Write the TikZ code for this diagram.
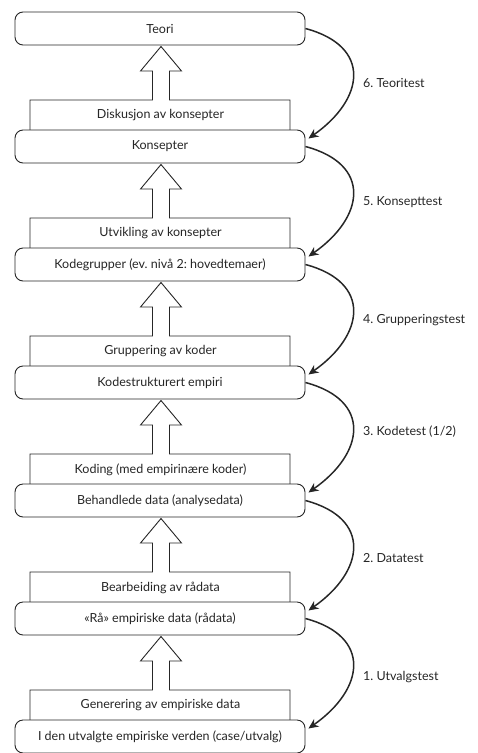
\documentclass[tikz,border=0pt]{standalone}
\usepackage{fontspec}
\setmainfont{Lato}
\frenchspacing
\usetikzlibrary{arrows.meta,calc}
\definecolor{ink}{HTML}{262626}
\tikzset{
  rbox/.style={draw=ink, line width=0.9pt, rounded corners=8pt, fill=white,
    minimum width=290pt, minimum height=33pt, inner sep=0pt, font=\fontsize{12.5}{14}\selectfont, text=ink},
  ptext/.style={inner sep=0pt, font=\fontsize{12.5}{14}\selectfont, text=ink},
  ltext/.style={anchor=west, inner sep=0pt, font=\fontsize{12.5}{14}\selectfont, text=ink},
  pshape/.style={draw=ink, line width=0.9pt, fill=white, line join=miter},
  testarrow/.style={draw=ink, line width=1.5pt, -{Stealth[length=10pt,width=9pt]}}
}
\begin{document}
\begin{tikzpicture}[x=1pt,y=1pt]
\useasboundingbox (0,0) rectangle (478,-753);
% process boxes with block arrows (drawn first, under the rounded boxes)
\foreach \k/\t in {0/Diskusjon av konsepter,1/Utvikling av konsepter,2/Gruppering av koder,3/Koding (med empirinære koder),4/Bearbeiding av rådata,5/Generering av empiriske data}{
  \pgfmathsetmacro{\ub}{45+118*\k}   % bottom of upper box
  \pgfmathsetmacro{\pt}{100+118*\k}  % top of process box
  \pgfmathsetmacro{\pb}{135+118*\k}  % hidden bottom
  \pgfmathsetmacro{\hb}{\ub+26}      % head base
  \pgfmathsetmacro{\tip}{\ub+1.5}
  \draw[pshape] (30,-\pb) -- (30,-\pt) -- (152.5,-\pt) -- (152.5,-\hb) -- (140.5,-\hb)
     -- (161,-\tip) -- (181.5,-\hb) -- (169.5,-\hb) -- (169.5,-\pt) -- (290,-\pt) -- (290,-\pb);
  \node[ptext] (p\k) at (160.5,-\pt-15.5) {\t};
}
% rounded boxes
\node[rbox] (b6) at (160,-28.5) {Teori};
\node[rbox] (b5) at (160,-146.5) {Konsepter};
\node[rbox] (b4) at (160,-264.5) {Kodegrupper (ev. nivå 2: hovedtemaer)};
\node[rbox] (b3) at (160,-382.5) {Kodestrukturert empiri};
\node[rbox] (b2) at (160,-500.5) {Behandlede data (analysedata)};
\node[rbox] (b1) at (160,-618.5) {«Rå» empiriske data (rådata)};
\node[rbox] (b0) at (160,-736.5) {I den utvalgte empiriske verden (case/utvalg)};
% test arrows
\foreach \a/\b in {6/5,5/4,4/3,3/2,2/1,1/0}{
  \draw[testarrow] (b\a.east) to[out=-15,in=35,looseness=1.6] ([xshift=3pt,yshift=8pt]b\b.east);
}
\node[ltext] (l6) at (363,-83) {6. Teoritest};
\node[ltext] (l5) at (363,-202) {5. Konsepttest};
\node[ltext] (l4) at (363,-320) {4. Grupperingstest};
\node[ltext] (l3) at (363,-432) {3. Kodetest (1/2)};
\node[ltext] (l2) at (363,-558) {2. Datatest};
\node[ltext] (l1) at (363,-677) {1. Utvalgstest};
\end{tikzpicture}
\end{document}
